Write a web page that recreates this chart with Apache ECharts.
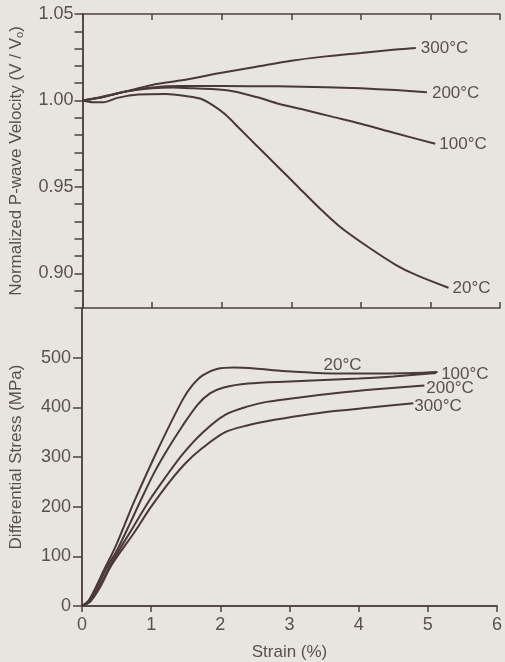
<!DOCTYPE html>
<html>
<head>
<meta charset="utf-8">
<title>P-wave velocity and stress vs strain</title>
<script src="https://cdn.jsdelivr.net/npm/echarts@6/dist/echarts.min.js"></script>
<style>
  html, body { margin: 0; padding: 0; background: #e7e5dd; }
  #main { width: 505px; height: 662px; }
</style>
</head>
<body>
<div id="main"></div>
<script>
// 温度标签
const temps = ['20°C', '100°C', '200°C', '300°C'];

// 上图：归一化纵波速度 (strain %, V/Vo)
const velStrain20 = [0, 0.15, 0.3, 0.5, 0.8, 1.2, 1.5, 1.7, 1.87, 2.05, 2.26, 2.5, 2.8, 3.1, 3.4, 3.7, 4.1, 4.5, 4.8, 5.26];
const vel20 = [1.000, 0.999, 0.999, 1.0015, 1.0035, 1.0038, 1.0025, 1.001, 0.9973, 0.992, 0.9836, 0.974, 0.962, 0.950, 0.938, 0.927, 0.9154, 0.905, 0.899, 0.8917];
const velStrain100 = [0, 0.3, 0.6, 1.0, 1.3, 1.6, 2.1, 2.5, 2.83, 3.2, 3.6, 4.0, 4.5, 5.07];
const vel100 = [1.000, 1.002, 1.005, 1.007, 1.0075, 1.007, 1.0058, 1.002, 0.998, 0.9945, 0.9905, 0.9865, 0.981, 0.975];
const velStrain200 = [0, 0.3, 0.6, 1.0, 1.4, 2.0, 2.8, 3.5, 4.0, 4.5, 4.95];
const vel200 = [1.000, 1.002, 1.005, 1.0075, 1.0083, 1.0083, 1.0082, 1.0077, 1.007, 1.006, 1.0048];
const velStrain300 = [0, 0.2, 0.5, 1.0, 1.4, 2.0, 2.5, 3.0, 3.5, 4.0, 4.5, 4.79];
const vel300 = [1.000, 1.0015, 1.004, 1.009, 1.0115, 1.016, 1.0195, 1.023, 1.0255, 1.0275, 1.0295, 1.0304];

// 下图：差应力 (strain %, MPa)
const stressStrain20 = [0, 0.1, 0.2, 0.33, 0.48, 0.62, 0.76, 1.1, 1.45, 1.6, 1.75, 1.95, 2.2, 2.5, 2.9, 3.3, 3.8, 4.3, 4.8, 5.14];
const stress20 = [0, 12, 38, 76, 118, 165, 212, 316, 414, 445, 465, 477, 480, 478, 473, 470, 468, 468, 469, 471];
const stressStrain100 = [0, 0.1, 0.2, 0.35, 0.52, 0.7, 0.86, 1.05, 1.24, 1.45, 1.67, 1.85, 2.05, 2.4, 3.0, 3.5, 4.0, 4.5, 5.12];
const stress100 = [0, 10, 32, 75, 116, 168, 216, 270, 316, 362, 405, 428, 440, 448, 452, 455, 458, 462, 469];
const stressStrain200 = [0, 0.12, 0.25, 0.42, 0.71, 0.98, 1.2, 1.45, 1.75, 2.07, 2.4, 2.67, 3.2, 3.62, 4.2, 4.95];
const stress200 = [0, 10, 38, 85, 152, 214, 258, 305, 350, 385, 402, 411, 421, 428, 436, 444];
const stressStrain300 = [0, 0.12, 0.25, 0.43, 0.76, 0.98, 1.26, 1.5, 1.74, 2.07, 2.4, 2.67, 3.2, 3.62, 4.2, 4.79];
const stress300 = [0, 9, 35, 83, 149, 196, 249, 288, 318, 350, 364, 372, 384, 392, 400, 408];

// 刻度
const strainTicks = [0, 1, 2, 3, 4, 5, 6];
const velMin = 0.88, velMax = 1.05, velStep = 0.01;
const stressMin = 0, stressMax = 600, stressStep = 100;

const lineColor = '#4b3838';
const axisColor = '#4e4242';
const textColor = '#5a514e';
const font = 'Liberation Sans, Arial, sans-serif';

const pairs = (xs, ys) => xs.map((x, i) => [x, ys[i]]);

// 曲线末端标签偏移 [dx, dy]
const velLabelOffset = [[0, 1], [0, 1], [1, 1], [1, 0]];
const stressLabelOffset = [[-118, -7], [1, 1], [-2, 3], [-3, 3]];

function makeSeries(name, data, xi, yi, offset) {
  return {
    name: name,
    type: 'line',
    xAxisIndex: xi,
    yAxisIndex: yi,
    data: data,
    smooth: 0.3,
    symbol: 'none',
    silent: true,
    lineStyle: { color: lineColor, width: 2 },
    endLabel: {
      show: true,
      formatter: name,
      color: textColor,
      fontSize: 17,
      fontFamily: font,
      distance: 4,
      offset: offset
    }
  };
}

const velData = [pairs(velStrain20, vel20), pairs(velStrain100, vel100), pairs(velStrain200, vel200), pairs(velStrain300, vel300)];
const stressData = [pairs(stressStrain20, stress20), pairs(stressStrain100, stress100), pairs(stressStrain200, stress200), pairs(stressStrain300, stress300)];

const series = [];
temps.forEach((t, i) => {
  series.push(makeSeries(t, velData[i], 0, 0, velLabelOffset[i]));
});
temps.forEach((t, i) => {
  series.push(makeSeries(t, stressData[i], 2, 2, stressLabelOffset[i]));
});

const lineStyle = { show: true, lineStyle: { color: axisColor, width: 1.5 } };

function strainAxis(grid, pos, opts) {
  return Object.assign({
    type: 'value',
    gridIndex: grid,
    position: pos,
    min: strainTicks[0],
    max: strainTicks[strainTicks.length - 1],
    interval: 1,
    axisLine: lineStyle,
    axisTick: { show: true, inside: true, length: 6, lineStyle: { color: axisColor, width: 1.5 } },
    axisLabel: { show: false },
    splitLine: { show: false }
  }, opts);
}

const option = {
  backgroundColor: '#e7e5dd',
  animation: false,
  grid: [
    { left: 80, right: 5, top: 14, height: 294 },
    { left: 80, right: 5, top: 308, height: 300 }
  ],
  xAxis: [
    strainAxis(0, 'bottom'),
    strainAxis(0, 'top'),
    strainAxis(1, 'bottom', {
      name: 'Strain (%)',
      nameLocation: 'middle',
      nameGap: 38,
      nameTextStyle: { color: textColor, fontSize: 17, fontFamily: font },
      axisTick: { show: true, inside: false, length: 5, lineStyle: { color: axisColor, width: 1.5 } },
      axisLabel: { show: true, color: textColor, fontSize: 18, fontFamily: font, margin: 10 }
    }),
    strainAxis(1, 'top')
  ],
  yAxis: [
    {
      type: 'value',
      gridIndex: 0,
      position: 'left',
      min: velMin,
      max: velMax,
      interval: velStep,
      name: 'Normalized P-wave Velocity (V / V{sub|o})',
      nameLocation: 'middle',
      nameGap: 57,
      nameTextStyle: {
        color: textColor, fontSize: 17, fontFamily: font,
        rich: { sub: { fontSize: 11, color: textColor, fontFamily: font, verticalAlign: 'bottom', padding: [7, 0, 0, 0] } }
      },
      axisLine: lineStyle,
      axisTick: { show: true, inside: false, length: 8, lineStyle: { color: axisColor, width: 1.5 } },
      axisLabel: {
        color: textColor, fontSize: 18, fontFamily: font, margin: 9,
        formatter: (v) => (Math.round(v * 100) % 5 === 0 ? v.toFixed(2) : '')
      },
      splitLine: { show: false }
    },
    {
      type: 'value',
      gridIndex: 0,
      position: 'right',
      min: velMin,
      max: velMax,
      interval: velStep,
      axisLine: lineStyle,
      axisTick: { show: true, inside: true, length: 7, lineStyle: { color: axisColor, width: 1.5 } },
      axisLabel: { show: false },
      splitLine: { show: false }
    },
    {
      type: 'value',
      gridIndex: 1,
      position: 'left',
      min: stressMin,
      max: stressMax,
      interval: stressStep,
      name: 'Differential Stress (MPa)',
      nameLocation: 'middle',
      nameGap: 57,
      nameTextStyle: { color: textColor, fontSize: 17, fontFamily: font },
      axisLine: lineStyle,
      axisTick: { show: true, inside: false, length: 9, lineStyle: { color: axisColor, width: 1.5 } },
      axisLabel: { color: textColor, fontSize: 18, fontFamily: font, margin: 11, showMaxLabel: false },
      splitLine: { show: false }
    },
    {
      type: 'value',
      gridIndex: 1,
      position: 'right',
      min: stressMin,
      max: stressMax,
      interval: stressStep,
      axisLine: lineStyle,
      axisTick: { show: true, inside: true, length: 7, lineStyle: { color: axisColor, width: 1.5 } },
      axisLabel: { show: false },
      splitLine: { show: false }
    }
  ],
  series: series
};

const chart = echarts.init(document.getElementById('main'), null, { renderer: 'canvas' });
chart.setOption(option);
</script>
</body>
</html>
